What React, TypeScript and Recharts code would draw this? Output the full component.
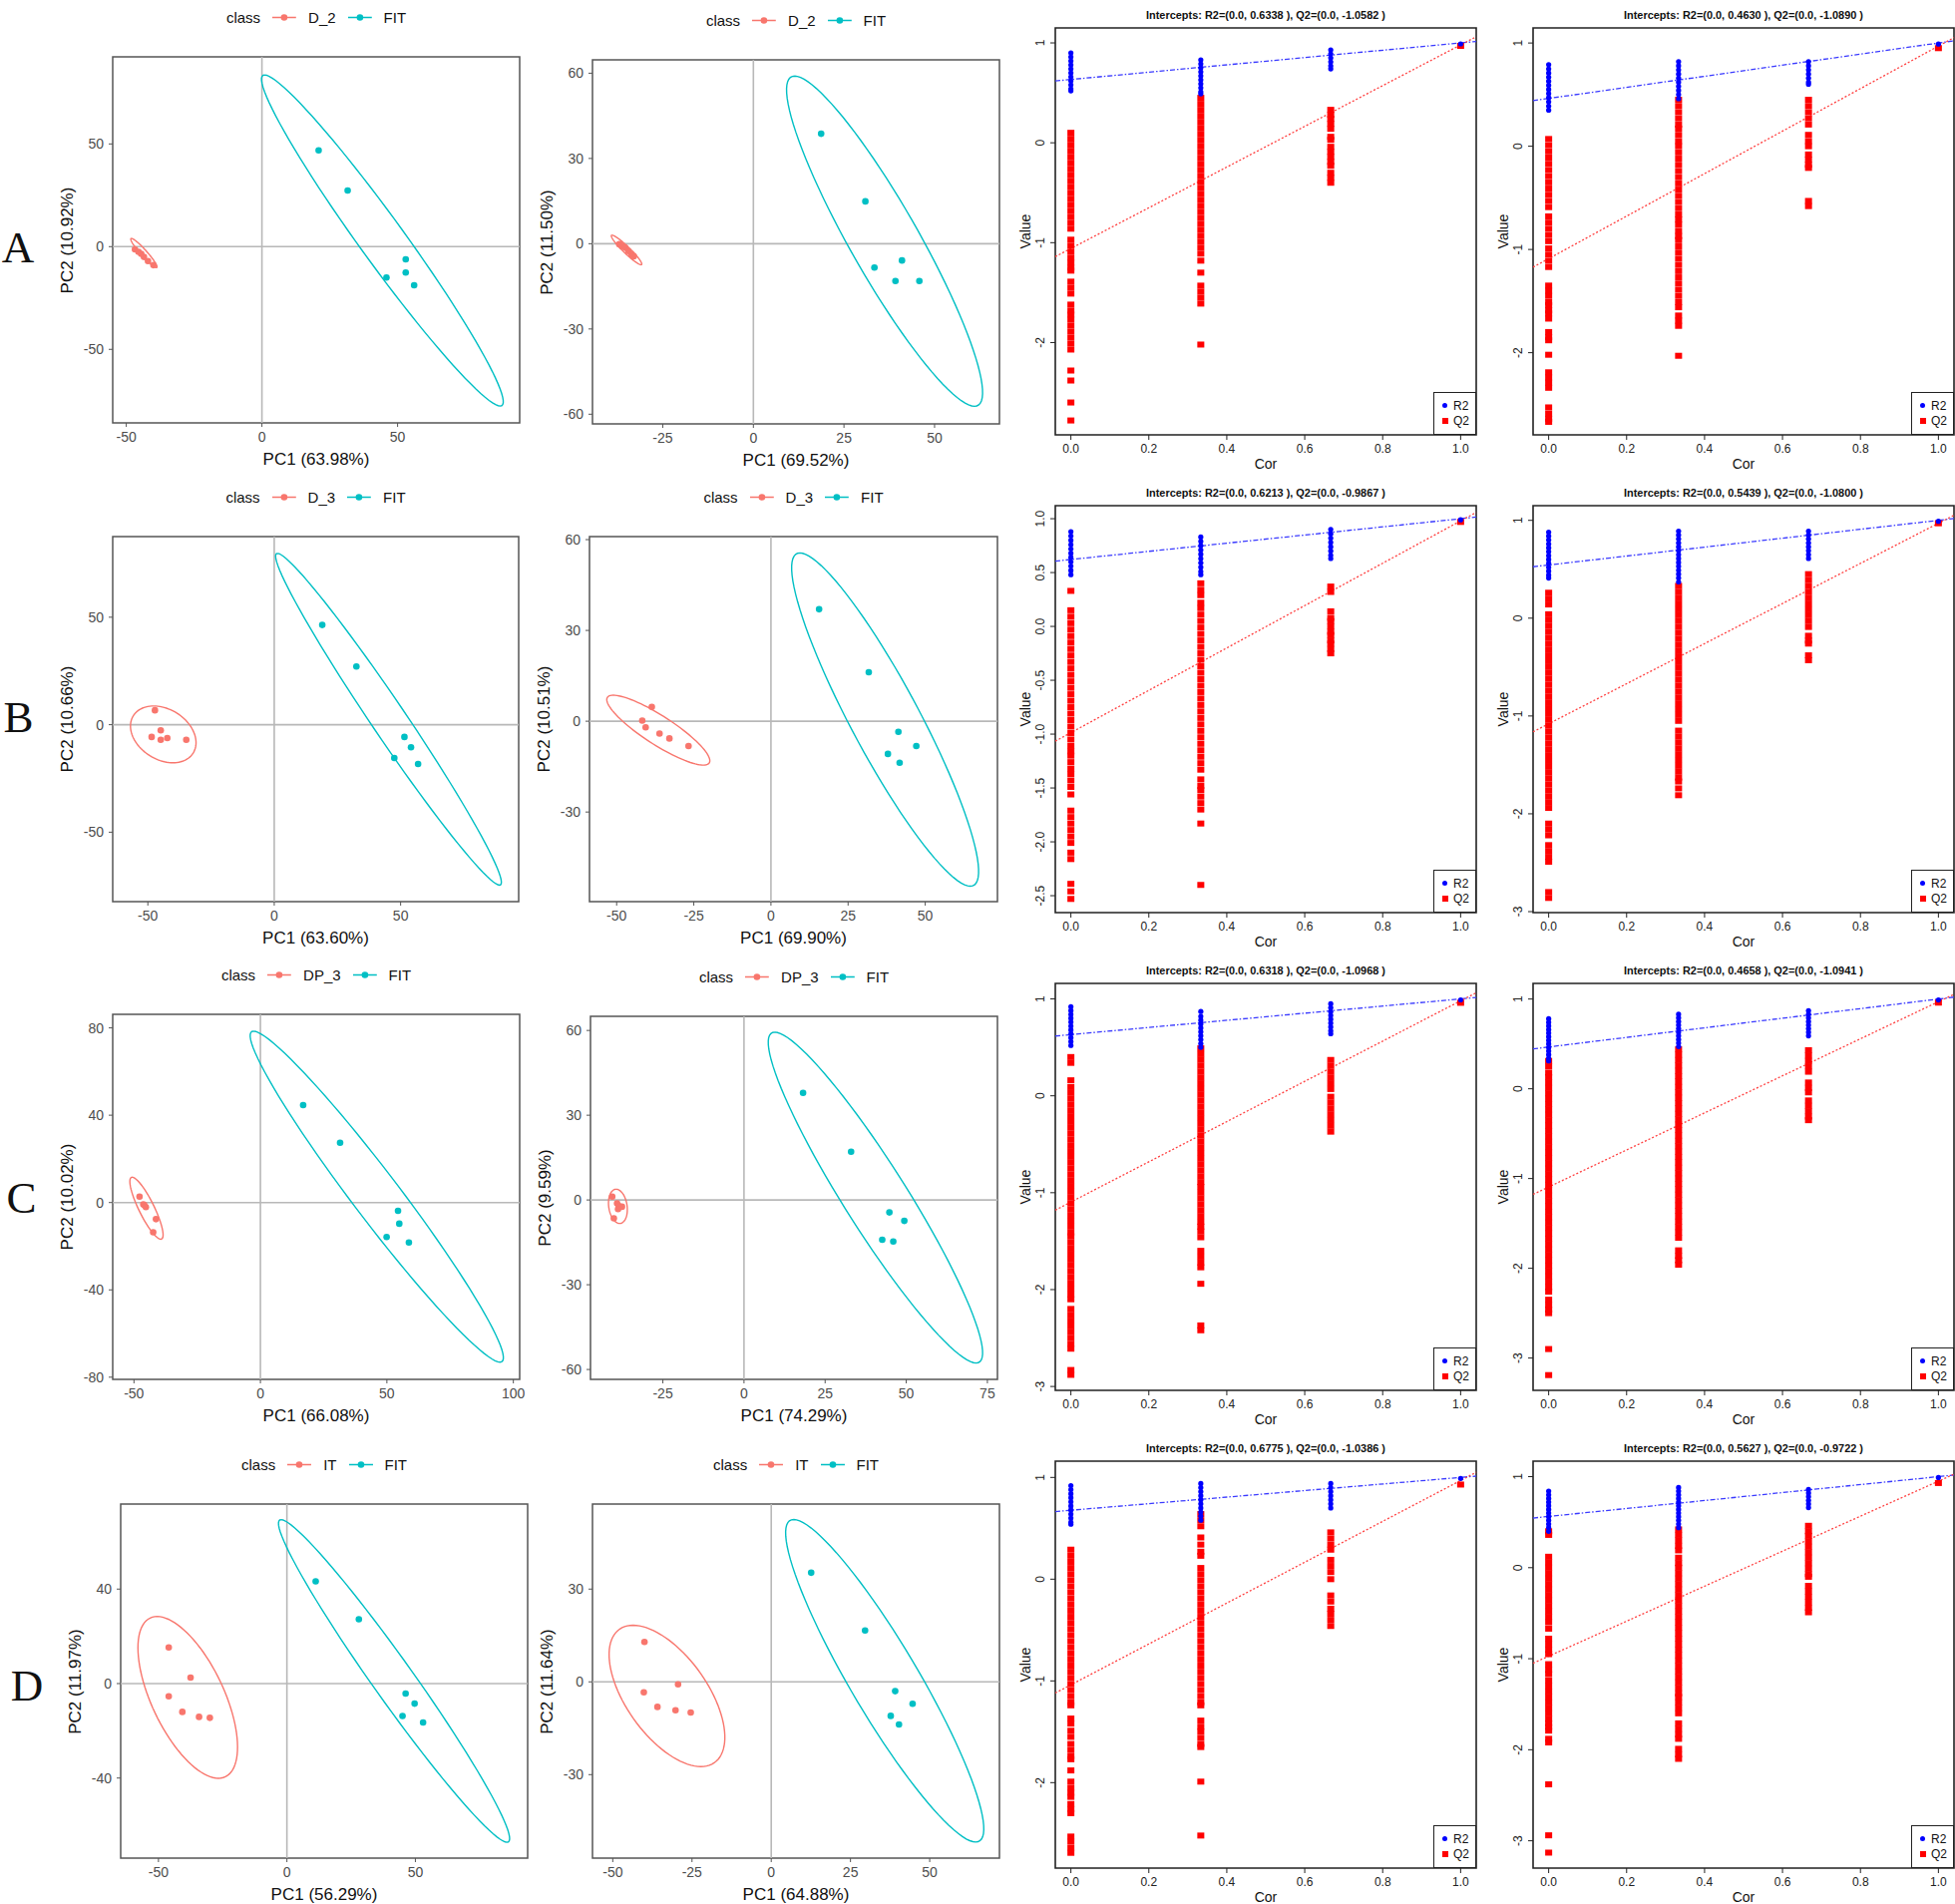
import React from 'react';
import { ScatterChart, Scatter, XAxis, YAxis, ReferenceLine, ReferenceArea } from 'recharts';

const RED = '#F8766D';
const CYAN = '#00BFC4';

// PCA scores, [PC1, PC2] per sample
const a1Red = [[-46.8, -1.3], [-45.5, -2.5], [-44.5, -3.5], [-43.5, -5], [-42, -7], [-40, -9]];
const a1Fit = [[20.9, 46.9], [31.6, 27.3], [45.9, -15], [53, -6.2], [53, -12.6], [56.1, -18.8]];
const a2Red = [[-37, -0.2], [-36.3, -0.8], [-35.4, -1.4], [-34.5, -2.6], [-33.6, -3.8], [-33, -4.4]];
const a2Fit = [[18.7, 38.7], [30.9, 14.9], [33.4, -8.4], [41, -5.9], [39.2, -13.1], [45.8, -13.1]];
const b1Red = [[-47.2, 6.7], [-44.9, -2.6], [-48.5, -5.7], [-44.9, -7], [-42.3, -6.2], [-34.8, -7]];
const b1Fit = [[19, 46.4], [32.5, 27.1], [51.5, -5.7], [54.1, -10.5], [47.5, -15.5], [56.9, -18.3]];
const b2Red = [[-38.6, 4.7], [-41.7, 0.2], [-40.6, -2], [-36.1, -4.1], [-32.9, -5.7], [-26.7, -8.2]];
const b2Fit = [[15.6, 37], [31.7, 16.2], [41.3, -3.5], [47.1, -8.2], [37.9, -10.8], [41.7, -13.7]];
const c1Red = [[-47.8, 2.7], [-46.3, -0.8], [-45.9, -1.2], [-45.3, -2.1], [-41.3, -7.6], [-42.4, -13.6]];
const c1Fit = [[16.9, 44.6], [31.5, 27.4], [54.4, -3.8], [54.9, -9.7], [49.9, -15.8], [58.7, -18.3]];
const c2Red = [[-40.6, 1.2], [-39.1, -1.2], [-38.6, -2.1], [-37.6, -2.4], [-38.8, -3.2], [-40.1, -6.5]];
const c2Fit = [[18.2, 37.9], [33, 17.1], [44.8, -4.4], [49.4, -7.4], [42.6, -14.1], [46, -14.7]];
const d1Red = [[-46, 15.3], [-37.5, 2.5], [-46, -5.4], [-40.7, -12], [-34.2, -14.1], [-30, -14.5]];
const d1Fit = [[11.2, 43.3], [28, 27.2], [46.2, -4.2], [49.7, -8.5], [45, -13.7], [53, -16.5]];
const d2Red = [[-40, 12.9], [-29.4, -0.8], [-40.2, -3.4], [-35.9, -8.1], [-30.2, -9.2], [-25.4, -9.9]];
const d2Fit = [[12.6, 35.3], [29.6, 16.6], [39.1, -3], [44.6, -7.1], [37.7, -11], [40.3, -13.8]];

// 95% ellipses: [centre x, centre y, top vertex dx, top vertex dy, horizontal half-width]
const a1RedEll = [-43.5, -3.1, -4.6, 7.1, 1.5];
const a1FitEll = [44.4, 3.0, -43.4, 80.6, 10.1];
const a2RedEll = [-35, -2.2, -4, 5.2, 1.3];
const a2FitEll = [36.2, 0.9, -24.8, 58.1, 10.8];
const b1RedEll = [-43.9, -4.5, -3.8, 13.2, 12.4];
const b1FitEll = [45.2, 2.55, -43.9, 77.15, 8.2];
const b2RedEll = [-36.5, -2.95, -14.6, 11.55, 8.1];
const b2FitEll = [37, 0.55, -27.6, 55.05, 12.5];
const c1RedEll = [-45.05, -2.6, -5.65, 14.2, 3.35];
const c1FitEll = [46, 2.7, -48.7, 75.8, 11.6];
const c2RedEll = [-38.85, -2.25, -0.55, 6.05, 2.85];
const c2FitEll = [40.5, 0.85, -31, 58.55, 11.4];
const d1RedEll = [-38.6, -5.85, -11.9, 34.25, 15.3];
const d1FitEll = [41.7, 1.1, -43.95, 68.3, 9.6];
const d2RedEll = [-32.9, -4.55, -10.7, 22.85, 14.8];
const d2FitEll = [35.8, 0.35, -28.7, 52.15, 12.4];

// permutation tests: one column of values per correlation level
const corX = [0, 0.3333, 0.6667, 1];
const corTicks = [0, 0.2, 0.4, 0.6, 0.8, 1];

const a3R2 = [
  [0.9, 0.86, 0.82, 0.78, 0.74, 0.7, 0.66, 0.62, 0.58, 0.54, 0.52],
  [0.83, 0.79, 0.75, 0.71, 0.67, 0.63, 0.59, 0.55, 0.51, 0.49],
  [0.93, 0.89, 0.85, 0.81, 0.77, 0.74],
  [0.99],
];
const a3Q2 = [
  [0.1, 0.04, -0.02, -0.08, -0.14, -0.2, -0.26, -0.32, -0.38, -0.44, -0.5, -0.56, -0.62, -0.68, -0.74, -0.8, -0.86, -0.97, -1.03, -1.09, -1.15, -1.2, -1.25, -1.28, -1.39, -1.45, -1.51, -1.62, -1.68, -1.72, -1.77, -1.83, -1.89, -1.95, -2.01, -2.07, -2.28, -2.38, -2.6, -2.78],
  [0.45, 0.39, 0.33, 0.27, 0.21, 0.15, 0.09, 0.03, -0.03, -0.09, -0.15, -0.21, -0.27, -0.33, -0.39, -0.45, -0.51, -0.57, -0.63, -0.69, -0.75, -0.81, -0.87, -0.93, -0.99, -1.05, -1.11, -1.18, -1.3, -1.43, -1.49, -1.55, -1.61, -2.02],
  [0.33, 0.28, 0.24, 0.19, 0.14, 0.06, 0.03, -0.04, -0.09, -0.14, -0.19, -0.23, -0.3, -0.35, -0.4],
  [0.97],
];
const a3Lines = [0.6338, 1.0, -1.0582, 0.98];

const a4R2 = [
  [0.79, 0.75, 0.71, 0.67, 0.63, 0.59, 0.55, 0.51, 0.47, 0.43, 0.39, 0.35],
  [0.82, 0.78, 0.74, 0.7, 0.66, 0.62, 0.58, 0.54, 0.5, 0.46],
  [0.82, 0.78, 0.74, 0.7, 0.66, 0.62, 0.6],
  [0.99],
];
const a4Q2 = [
  [0.07, 0.01, -0.05, -0.11, -0.17, -0.23, -0.29, -0.35, -0.41, -0.47, -0.53, -0.59, -0.68, -0.74, -0.8, -0.86, -0.92, -0.99, -1.05, -1.11, -1.17, -1.35, -1.4, -1.45, -1.51, -1.54, -1.59, -1.62, -1.67, -1.8, -1.85, -1.88, -2.02, -2.19, -2.24, -2.29, -2.34, -2.53, -2.59, -2.64, -2.67],
  [0.45, 0.39, 0.33, 0.27, 0.21, 0.17, 0.11, 0.05, 0, -0.06, -0.12, -0.18, -0.24, -0.3, -0.36, -0.42, -0.48, -0.54, -0.6, -0.66, -0.71, -0.76, -0.82, -0.87, -0.91, -0.97, -1.03, -1.09, -1.15, -1.21, -1.27, -1.33, -1.39, -1.45, -1.51, -1.56, -1.64, -1.69, -1.74, -2.03],
  [0.45, 0.39, 0.33, 0.27, 0.21, 0.11, 0.05, 0, -0.08, -0.13, -0.18, -0.21, -0.53, -0.58],
  [0.95],
];
const a4Lines = [0.463, 1.0, -1.089, 0.97];

const b3R2 = [
  [0.88, 0.84, 0.8, 0.76, 0.72, 0.68, 0.64, 0.6, 0.56, 0.52, 0.48],
  [0.83, 0.79, 0.75, 0.71, 0.67, 0.63, 0.59, 0.55, 0.51, 0.48],
  [0.9, 0.86, 0.82, 0.78, 0.74, 0.7, 0.66, 0.63],
  [0.99],
];
const b3Q2 = [
  [0.33, 0.15, 0.09, 0.03, -0.03, -0.09, -0.15, -0.21, -0.27, -0.33, -0.39, -0.45, -0.51, -0.57, -0.63, -0.69, -0.75, -0.81, -0.87, -0.93, -0.99, -1.05, -1.11, -1.16, -1.2, -1.26, -1.32, -1.37, -1.43, -1.49, -1.56, -1.71, -1.77, -1.83, -1.89, -1.95, -2.01, -2.1, -2.16, -2.39, -2.46, -2.53],
  [0.4, 0.34, 0.29, 0.22, 0.17, 0.11, 0.05, -0.01, -0.07, -0.13, -0.19, -0.25, -0.31, -0.37, -0.43, -0.49, -0.55, -0.61, -0.67, -0.73, -0.79, -0.85, -0.91, -0.97, -1.03, -1.09, -1.15, -1.21, -1.27, -1.33, -1.42, -1.48, -1.52, -1.58, -1.64, -1.7, -1.83, -2.4],
  [0.37, 0.32, 0.14, 0.08, 0.05, 0, -0.05, -0.08, -0.13, -0.16, -0.21, -0.25],
  [0.97],
];
const b3Lines = [0.6213, 1.0, -0.9867, 0.98];

const b4R2 = [
  [0.88, 0.84, 0.8, 0.76, 0.72, 0.68, 0.64, 0.6, 0.56, 0.52, 0.48, 0.44, 0.41],
  [0.89, 0.85, 0.81, 0.77, 0.73, 0.69, 0.65, 0.61, 0.57, 0.53, 0.49, 0.45, 0.41, 0.37],
  [0.89, 0.85, 0.81, 0.77, 0.73, 0.69, 0.65, 0.61],
  [0.99],
];
const b4Q2 = [
  [0.26, 0.2, 0.14, 0.04, -0.02, -0.08, -0.14, -0.2, -0.26, -0.32, -0.38, -0.44, -0.5, -0.56, -0.62, -0.68, -0.74, -0.8, -0.86, -0.92, -0.98, -1.04, -1.1, -1.16, -1.22, -1.28, -1.34, -1.4, -1.46, -1.52, -1.58, -1.64, -1.7, -1.76, -1.82, -1.88, -1.94, -2.1, -2.16, -2.22, -2.32, -2.38, -2.44, -2.49, -2.8, -2.86],
  [0.33, 0.27, 0.21, 0.15, 0.09, 0.03, -0.03, -0.09, -0.15, -0.21, -0.27, -0.33, -0.39, -0.45, -0.51, -0.57, -0.63, -0.69, -0.75, -0.81, -0.87, -0.93, -0.99, -1.05, -1.15, -1.21, -1.27, -1.33, -1.39, -1.45, -1.51, -1.57, -1.63, -1.67, -1.74, -1.81],
  [0.45, 0.39, 0.33, 0.27, 0.21, 0.15, 0.09, 0.03, -0.03, -0.09, -0.18, -0.23, -0.26, -0.38, -0.43],
  [0.97],
];
const b4Lines = [0.5439, 1.0, -1.08, 0.97];

const c3R2 = [
  [0.92, 0.88, 0.84, 0.8, 0.76, 0.72, 0.68, 0.64, 0.6, 0.56, 0.52],
  [0.87, 0.82, 0.78, 0.74, 0.7, 0.66, 0.62, 0.58, 0.54, 0.5],
  [0.95, 0.91, 0.87, 0.83, 0.79, 0.75, 0.71, 0.67, 0.64],
  [0.99],
];
const c3Q2 = [
  [0.4, 0.34, 0.16, 0.09, 0.03, -0.03, -0.09, -0.15, -0.21, -0.27, -0.33, -0.39, -0.45, -0.51, -0.57, -0.63, -0.69, -0.75, -0.81, -0.87, -0.93, -0.99, -1.05, -1.11, -1.17, -1.23, -1.29, -1.35, -1.41, -1.45, -1.51, -1.57, -1.63, -1.69, -1.75, -1.81, -1.87, -1.93, -1.99, -2.05, -2.1, -2.2, -2.26, -2.32, -2.38, -2.44, -2.5, -2.56, -2.61, -2.83, -2.88],
  [0.49, 0.43, 0.37, 0.31, 0.25, 0.19, 0.13, 0.07, 0.01, -0.05, -0.11, -0.17, -0.23, -0.29, -0.35, -0.41, -0.47, -0.53, -0.59, -0.65, -0.71, -0.77, -0.83, -0.89, -0.94, -1, -1.06, -1.12, -1.18, -1.24, -1.3, -1.35, -1.4, -1.46, -1.6, -1.66, -1.72, -1.77, -1.94, -2.37, -2.42],
  [0.37, 0.31, 0.25, 0.19, 0.13, 0.07, -0.01, -0.07, -0.13, -0.19, -0.25, -0.31, -0.37],
  [0.96],
];
const c3Lines = [0.6318, 1.0, -1.0968, 0.98];

const c4R2 = [
  [0.78, 0.74, 0.7, 0.66, 0.62, 0.58, 0.54, 0.5, 0.46, 0.42, 0.38, 0.34, 0.31],
  [0.83, 0.79, 0.75, 0.71, 0.67, 0.63, 0.59, 0.55, 0.51, 0.47],
  [0.87, 0.83, 0.79, 0.75, 0.71, 0.67, 0.63, 0.59],
  [0.99],
];
const c4Q2 = [
  [0.31, 0.25, 0.18, 0.13, 0.07, 0.01, -0.05, -0.11, -0.17, -0.23, -0.29, -0.35, -0.41, -0.47, -0.53, -0.59, -0.65, -0.71, -0.77, -0.83, -0.89, -0.95, -1.01, -1.07, -1.13, -1.19, -1.25, -1.31, -1.37, -1.43, -1.49, -1.55, -1.61, -1.67, -1.73, -1.79, -1.85, -1.91, -1.97, -2.03, -2.09, -2.15, -2.21, -2.26, -2.35, -2.41, -2.46, -2.5, -2.9, -3.19],
  [0.44, 0.38, 0.32, 0.26, 0.2, 0.14, 0.08, 0.02, -0.04, -0.1, -0.16, -0.22, -0.28, -0.34, -0.4, -0.46, -0.52, -0.58, -0.64, -0.7, -0.76, -0.82, -0.88, -0.94, -1, -1.06, -1.12, -1.18, -1.24, -1.3, -1.36, -1.42, -1.48, -1.54, -1.6, -1.66, -1.8, -1.86, -1.91, -1.96],
  [0.43, 0.37, 0.31, 0.25, 0.19, 0.07, 0.01, -0.04, -0.13, -0.19, -0.25, -0.31, -0.35],
  [0.96],
];
const c4Lines = [0.4658, 1.0, -1.0941, 0.97];

const d3R2 = [
  [0.92, 0.88, 0.84, 0.8, 0.76, 0.72, 0.68, 0.64, 0.6, 0.56, 0.54],
  [0.94, 0.9, 0.86, 0.82, 0.78, 0.74, 0.7, 0.66, 0.62, 0.58],
  [0.94, 0.9, 0.86, 0.82, 0.78, 0.74, 0.7],
  [0.99],
];
const d3Q2 = [
  [0.29, 0.23, 0.17, 0.11, 0.05, -0.01, -0.07, -0.13, -0.19, -0.25, -0.31, -0.37, -0.43, -0.49, -0.55, -0.61, -0.67, -0.73, -0.79, -0.85, -0.91, -0.97, -1.03, -1.09, -1.15, -1.21, -1.24, -1.37, -1.42, -1.49, -1.55, -1.62, -1.68, -1.74, -1.77, -1.88, -1.99, -2.05, -2.1, -2.14, -2.21, -2.26, -2.3, -2.53, -2.58, -2.64, -2.69],
  [0.64, 0.58, 0.52, 0.41, 0.34, 0.27, 0.23, 0.11, 0.05, -0.01, -0.07, -0.13, -0.19, -0.25, -0.31, -0.37, -0.43, -0.49, -0.55, -0.61, -0.67, -0.73, -0.79, -0.85, -0.91, -0.97, -1.03, -1.09, -1.15, -1.21, -1.24, -1.39, -1.45, -1.5, -1.56, -1.62, -1.65, -1.99, -2.52],
  [0.46, 0.4, 0.34, 0.29, 0.19, 0.13, 0.07, 0, -0.16, -0.22, -0.29, -0.34, -0.4, -0.46],
  [0.93],
];
const d3Lines = [0.6775, 1.0, -1.0386, 0.97];

const d4R2 = [
  [0.84, 0.8, 0.76, 0.72, 0.68, 0.64, 0.6, 0.56, 0.52, 0.48, 0.44, 0.4],
  [0.88, 0.84, 0.8, 0.76, 0.72, 0.68, 0.64, 0.6, 0.56, 0.52, 0.48, 0.44],
  [0.86, 0.82, 0.78, 0.74, 0.7, 0.66],
  [0.99],
];
const d4Q2 = [
  [0.4, 0.36, 0.12, 0.06, 0, -0.06, -0.12, -0.18, -0.24, -0.3, -0.36, -0.42, -0.48, -0.54, -0.6, -0.67, -0.78, -0.84, -0.9, -0.95, -1.06, -1.12, -1.17, -1.24, -1.3, -1.36, -1.42, -1.48, -1.54, -1.6, -1.66, -1.71, -1.75, -1.79, -1.88, -1.92, -2.38, -2.94, -3.13],
  [0.42, 0.36, 0.3, 0.24, 0.19, 0.11, 0.05, 0, -0.06, -0.12, -0.18, -0.24, -0.3, -0.36, -0.42, -0.48, -0.54, -0.6, -0.66, -0.72, -0.78, -0.84, -0.9, -0.96, -1.02, -1.08, -1.14, -1.2, -1.26, -1.32, -1.38, -1.42, -1.48, -1.54, -1.6, -1.71, -1.77, -1.83, -1.88, -1.99, -2.05, -2.1],
  [0.46, 0.4, 0.35, 0.29, 0.23, 0.17, 0.11, 0.05, -0.01, -0.07, -0.1, -0.2, -0.26, -0.32, -0.38, -0.44, -0.49],
  [0.93],
];
const d4Lines = [0.5627, 1.0, -0.9722, 0.95];

const pcaPanels = [
  { id: 'a1', box: [113, 57, 521, 424], xDom: [-55, 95], xTicks: [-50, 0, 50], yDom: [-85.8, 92.4], yTicks: [-50, 0, 50], cls: 'D_2', red: a1Red, fit: a1Fit, redEll: a1RedEll, fitEll: a1FitEll, xLab: 'PC1 (63.98%)', yLab: 'PC2 (10.92%)' },
  { id: 'a2', box: [594, 60, 1002, 425], xDom: [-44.4, 67.9], xTicks: [-25, 0, 25, 50], yDom: [-63.4, 64.7], yTicks: [-60, -30, 0, 30, 60], cls: 'D_2', red: a2Red, fit: a2Fit, redEll: a2RedEll, fitEll: a2FitEll, xLab: 'PC1 (69.52%)', yLab: 'PC2 (11.50%)' },
  { id: 'b1', box: [113, 538, 520, 904], xDom: [-63.9, 96.7], xTicks: [-50, 0, 50], yDom: [-82.3, 87.5], yTicks: [-50, 0, 50], cls: 'D_3', red: b1Red, fit: b1Fit, redEll: b1RedEll, fitEll: b1FitEll, xLab: 'PC1 (63.60%)', yLab: 'PC2 (10.66%)' },
  { id: 'b2', box: [591, 538, 1000, 904], xDom: [-58.8, 73.4], xTicks: [-50, -25, 0, 25, 50], yDom: [-59.6, 61], yTicks: [-30, 0, 30, 60], cls: 'D_3', red: b2Red, fit: b2Fit, redEll: b2RedEll, fitEll: b2FitEll, xLab: 'PC1 (69.90%)', yLab: 'PC2 (10.51%)' },
  { id: 'c1', box: [113, 1017, 521, 1383], xDom: [-58.4, 102.5], xTicks: [-50, 0, 50, 100], yDom: [-81, 86.2], yTicks: [-80, -40, 0, 40, 80], cls: 'DP_3', red: c1Red, fit: c1Fit, redEll: c1RedEll, fitEll: c1FitEll, xLab: 'PC1 (66.08%)', yLab: 'PC2 (10.02%)' },
  { id: 'c2', box: [592, 1019, 1000, 1383], xDom: [-47.3, 78.1], xTicks: [-25, 0, 25, 50, 75], yDom: [-63.5, 65], yTicks: [-60, -30, 0, 30, 60], cls: 'DP_3', red: c2Red, fit: c2Fit, redEll: c2RedEll, fitEll: c2FitEll, xLab: 'PC1 (74.29%)', yLab: 'PC2 (9.59%)' },
  { id: 'd1', box: [121, 1508, 529, 1863], xDom: [-64.7, 93.7], xTicks: [-50, 0, 50], yDom: [-73.9, 76], yTicks: [-40, 0, 40], cls: 'IT', red: d1Red, fit: d1Fit, redEll: d1RedEll, fitEll: d1FitEll, xLab: 'PC1 (56.29%)', yLab: 'PC2 (11.97%)' },
  { id: 'd2', box: [594, 1508, 1002, 1863], xDom: [-56.4, 72], xTicks: [-50, -25, 0, 25, 50], yDom: [-57, 57.5], yTicks: [-30, 0, 30], cls: 'IT', red: d2Red, fit: d2Fit, redEll: d2RedEll, fitEll: d2FitEll, xLab: 'PC1 (64.88%)', yLab: 'PC2 (11.64%)' },
];

const permPanels = [
  { id: 'a3', box: [1058, 28, 1480, 436], yDom: [-2.924, 1.15], yTicks: [-2, -1, 0, 1], dec: 0, r2: a3R2, q2: a3Q2, lines: a3Lines },
  { id: 'a4', box: [1537, 28, 1959, 436], yDom: [-2.796, 1.146], yTicks: [-2, -1, 0, 1], dec: 0, r2: a4R2, q2: a4Q2, lines: a4Lines },
  { id: 'b3', box: [1058, 507, 1480, 915], yDom: [-2.657, 1.121], yTicks: [-2.5, -2, -1.5, -1, -0.5, 0, 0.5, 1], dec: 1, r2: b3R2, q2: b3Q2, lines: b3Lines },
  { id: 'b4', box: [1537, 507, 1959, 915], yDom: [-3.01, 1.15], yTicks: [-3, -2, -1, 0, 1], dec: 0, r2: b4R2, q2: b4Q2, lines: b4Lines },
  { id: 'c3', box: [1058, 986, 1480, 1394], yDom: [-3.04, 1.16], yTicks: [-3, -2, -1, 0, 1], dec: 0, r2: c3R2, q2: c3Q2, lines: c3Lines },
  { id: 'c4', box: [1537, 986, 1959, 1394], yDom: [-3.36, 1.174], yTicks: [-3, -2, -1, 0, 1], dec: 0, r2: c4R2, q2: c4Q2, lines: c4Lines },
  { id: 'd3', box: [1058, 1465, 1480, 1873], yDom: [-2.84, 1.16], yTicks: [-2, -1, 0, 1], dec: 0, r2: d3R2, q2: d3Q2, lines: d3Lines },
  { id: 'd4', box: [1537, 1465, 1959, 1873], yDom: [-3.3, 1.17], yTicks: [-3, -2, -1, 0, 1], dec: 0, r2: d4R2, q2: d4Q2, lines: d4Lines },
];

const rowLetters = [
  { t: 'A', x: 18, y: 248 },
  { t: 'B', x: 18.5, y: 719 },
  { t: 'C', x: 21.5, y: 1201 },
  { t: 'D', x: 27, y: 1690 },
];

function ellipsePoints([cx, cy, ax, ay, bx]: number[]) {
  const pts = [];
  for (let i = 0; i <= 96; i++) {
    const t = (i / 96) * Math.PI * 2;
    pts.push({ x: cx + ax * Math.cos(t) + bx * Math.sin(t), y: cy + ay * Math.cos(t) });
  }
  return pts;
}

const toXY = (arr: number[][]) => arr.map(([x, y]) => ({ x, y }));
const columns = (cols: number[][]) => cols.flatMap((col, i) => col.map((v) => ({ x: corX[i], y: v })));

const centred = (x: number, y: number, extra: React.CSSProperties = {}): React.CSSProperties => ({
  position: 'absolute', left: x, top: y, transform: 'translate(-50%, -50%)', whiteSpace: 'nowrap', lineHeight: 1, ...extra,
});

function LegendKey({ color }: { color: string }) {
  return (
    <svg width={24} height={10} style={{ display: 'block' }}>
      <line x1={0} y1={5} x2={24} y2={5} stroke={color} strokeWidth={1.4} />
      <circle cx={12} cy={5} r={3.3} fill={color} />
    </svg>
  );
}

function PcaPanel({ p }: { p: any }) {
  const [L, T, R, B] = p.box;
  const YW = 60, XH = 48, M = 6;
  const w = R - L, h = B - T;
  const dot = (color: string) => (s: any) => <circle cx={s.cx} cy={s.cy} r={3.3} fill={color} />;
  return (
    <>
      <div style={centred((L + R) / 2, T - 40, { display: 'flex', alignItems: 'center', gap: 12, fontSize: 15, color: '#111' })}>
        <span>class</span>
        <LegendKey color={RED} />
        <span>{p.cls}</span>
        <LegendKey color={CYAN} />
        <span>FIT</span>
      </div>
      <div style={{ position: 'absolute', left: L - YW, top: T - M }}>
        <ScatterChart width={YW + w + M} height={M + h + XH} margin={{ top: M, right: M, bottom: 0, left: 0 }}>
          <XAxis type="number" dataKey="x" domain={p.xDom} ticks={p.xTicks} interval={0} allowDataOverflow height={XH}
            axisLine={false} tickSize={4} tickMargin={5} tickLine={{ stroke: '#555' }} tick={{ fill: '#4d4d4d', fontSize: 14 }} />
          <YAxis type="number" dataKey="y" domain={p.yDom} ticks={p.yTicks} interval={0} allowDataOverflow width={YW}
            axisLine={false} tickSize={4} tickMargin={5} tickLine={{ stroke: '#555' }} tick={{ fill: '#4d4d4d', fontSize: 14 }} />
          <ReferenceLine x={0} stroke="#b8b8b8" strokeWidth={1.6} />
          <ReferenceLine y={0} stroke="#b8b8b8" strokeWidth={1.6} />
          <Scatter data={ellipsePoints(p.redEll)} fill={RED} line={{ stroke: RED, strokeWidth: 1.4 }} lineType="joint" shape={() => <g />} isAnimationActive={false} />
          <Scatter data={ellipsePoints(p.fitEll)} fill={CYAN} line={{ stroke: CYAN, strokeWidth: 1.4 }} lineType="joint" shape={() => <g />} isAnimationActive={false} />
          <Scatter data={toXY(p.red)} fill={RED} shape={dot(RED)} isAnimationActive={false} />
          <Scatter data={toXY(p.fit)} fill={CYAN} shape={dot(CYAN)} isAnimationActive={false} />
          <ReferenceArea x1={p.xDom[0]} x2={p.xDom[1]} y1={p.yDom[0]} y2={p.yDom[1]} fill="#fff" fillOpacity={0} stroke="#555" strokeWidth={1.5} />
        </ScatterChart>
      </div>
      <div style={centred((L + R) / 2, B + 36, { fontSize: 17, color: '#111' })}>{p.xLab}</div>
      <div style={centred(L - 46, (T + B) / 2, { fontSize: 17, color: '#111', transform: 'translate(-50%, -50%) rotate(-90deg)' })}>{p.yLab}</div>
    </>
  );
}

function PermPanel({ p }: { p: any }) {
  const [L, T, R, B] = p.box;
  const YW = 50, XH = 40, M = 6;
  const w = R - L, h = B - T;
  const [r2i, r2one, q2i, q2one] = p.lines;
  const x0 = -0.04, x1 = 1.04;
  const lineAt = (i: number, one: number, x: number) => i + (one - i) * x;
  const title = `Intercepts: R2=(0.0, ${r2i.toFixed(4)} ), Q2=(0.0, ${q2i.toFixed(4)} )`;
  const yTick = (t: any) => {
    const cx = t.x - 7;
    return (
      <text x={cx} y={t.y} transform={`rotate(-90 ${cx} ${t.y})`} textAnchor="middle" dominantBaseline="central" fontSize={12} fill="#222">
        {Number(t.payload.value).toFixed(p.dec)}
      </text>
    );
  };
  return (
    <>
      <svg width={w} height={20} style={{ position: 'absolute', left: L, top: T - 23 }}>
        <text x={w / 2} y={14} textAnchor="middle" fontSize={11.5} fontWeight="bold" fill="#111" textLength={240} lengthAdjust="spacingAndGlyphs">{title}</text>
      </svg>
      <div style={{ position: 'absolute', left: L - YW, top: T - M }}>
        <ScatterChart width={YW + w + M} height={M + h + XH} margin={{ top: M, right: M, bottom: 0, left: 0 }}>
          <XAxis type="number" dataKey="x" domain={[x0, x1]} ticks={corTicks} interval={0} allowDataOverflow height={XH}
            axisLine={false} tickSize={5} tickMargin={4} tickLine={{ stroke: '#222' }} tick={{ fill: '#222', fontSize: 12 }}
            tickFormatter={(v: number) => v.toFixed(1)} />
          <YAxis type="number" dataKey="y" domain={p.yDom} ticks={p.yTicks} interval={0} allowDataOverflow width={YW}
            axisLine={false} tickSize={5} tickMargin={3} tickLine={{ stroke: '#222' }} tick={yTick} />
          <Scatter data={columns(p.q2)} fill="#ff0000" isAnimationActive={false}
            shape={(s: any) => <rect x={s.cx - 3.5} y={s.cy - 3} width={7} height={6} fill="#ff0000" />} />
          <Scatter data={columns(p.r2)} fill="#0000ff" isAnimationActive={false}
            shape={(s: any) => <circle cx={s.cx} cy={s.cy} r={2.6} fill="#0000ff" />} />
          <ReferenceLine segment={[{ x: x0, y: lineAt(r2i, r2one, x0) }, { x: x1, y: lineAt(r2i, r2one, x1) }]}
            stroke="#3b3bff" strokeWidth={1.3} strokeDasharray="5 2 1.5 2" ifOverflow="visible" />
          <ReferenceLine segment={[{ x: x0, y: lineAt(q2i, q2one, x0) }, { x: x1, y: lineAt(q2i, q2one, x1) }]}
            stroke="#ff4040" strokeWidth={1.3} strokeDasharray="2 2" ifOverflow="visible" />
          <ReferenceArea x1={x0} x2={x1} y1={p.yDom[0]} y2={p.yDom[1]} fill="#fff" fillOpacity={0} stroke="#222" strokeWidth={1.6} />
        </ScatterChart>
      </div>
      <div style={{ position: 'absolute', left: R - 43, top: B - 43, width: 43, height: 43, boxSizing: 'border-box', border: '1.5px solid #222', background: '#fff', fontSize: 12, color: '#111' }}>
        <div style={{ position: 'absolute', left: 8, top: 10, width: 5, height: 5, borderRadius: 3, background: '#0000ff' }} />
        <div style={{ position: 'absolute', left: 19, top: 6 }}>R2</div>
        <div style={{ position: 'absolute', left: 8, top: 25, width: 6, height: 6, background: '#ff0000' }} />
        <div style={{ position: 'absolute', left: 19, top: 21 }}>Q2</div>
      </div>
      <div style={centred((L + R) / 2, B + 29, { fontSize: 14, color: '#111' })}>Cor</div>
      <div style={centred(L - 30, (T + B) / 2, { fontSize: 14, color: '#111', transform: 'translate(-50%, -50%) rotate(-90deg)' })}>Value</div>
    </>
  );
}

export default function App() {
  return (
    <div style={{ position: 'relative', width: 1960, height: 1909, overflow: 'hidden', background: '#fff', fontFamily: '"Liberation Sans", Arial, sans-serif' }}>
      <style>{'body{margin:0;overflow:hidden}'}</style>
      {rowLetters.map((r) => (
        <div key={r.t} style={centred(r.x, r.y, { fontFamily: '"Liberation Serif", "Times New Roman", serif', fontSize: 45, color: '#111' })}>{r.t}</div>
      ))}
      {pcaPanels.map((p) => <PcaPanel key={p.id} p={p} />)}
      {permPanels.map((p) => <PermPanel key={p.id} p={p} />)}
    </div>
  );
}
